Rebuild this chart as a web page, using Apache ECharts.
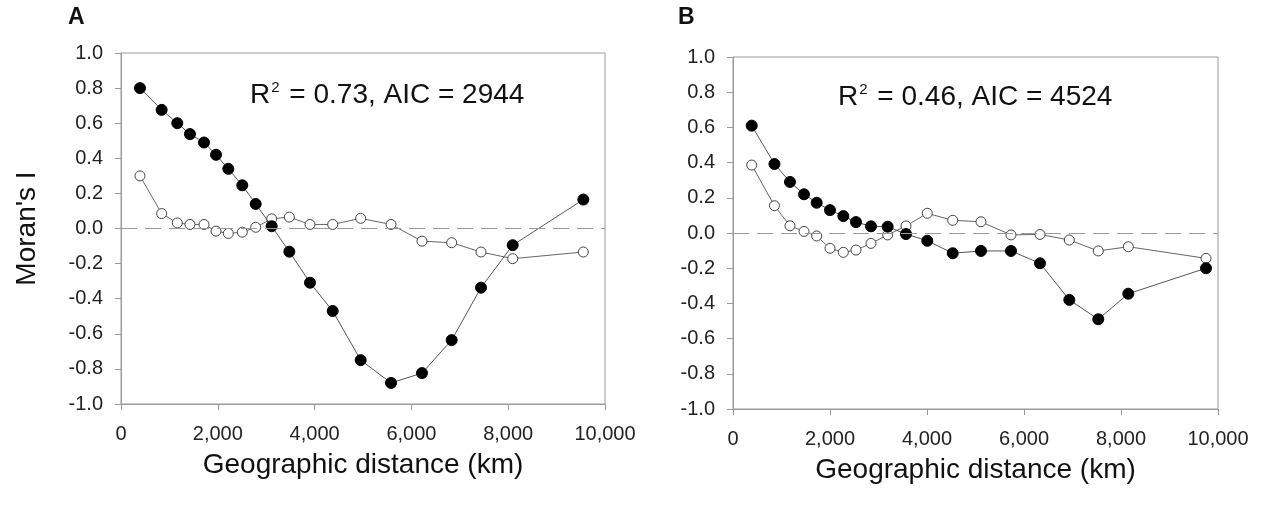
<!DOCTYPE html>
<html>
<head>
<meta charset="utf-8">
<script src="https://cdn.jsdelivr.net/npm/echarts@6/dist/echarts.min.js"></script>
<style>
  html, body { margin: 0; padding: 0; background: #fff; }
  #chart { width: 1262px; height: 510px; }
</style>
</head>
<body>
<div id="chart"></div>
<script>
// panel A: distance classes (km) and Moran's I
const distA = [392, 840, 1163, 1425, 1715, 1963, 2217, 2506, 2783, 3113, 3478, 3905, 4374, 4952, 5579, 6219, 6832, 7438, 8093, 9552];
const filledA = [0.80, 0.676, 0.60, 0.538, 0.49, 0.42, 0.34, 0.246, 0.14, 0.013, -0.132, -0.309, -0.47, -0.75, -0.88, -0.824, -0.636, -0.337, -0.095, 0.165];
const hollowA = [0.30, 0.085, 0.032, 0.023, 0.023, -0.015, -0.028, -0.021, 0.007, 0.055, 0.065, 0.023, 0.023, 0.058, 0.023, -0.072, -0.081, -0.134, -0.172, -0.134];

// panel B
const distB = [386, 855, 1175, 1464, 1725, 2000, 2275, 2536, 2845, 3189, 3567, 4006, 4530, 5113, 5732, 6330, 6934, 7532, 8151, 9753];
const filledB = [0.61, 0.392, 0.29, 0.22, 0.172, 0.13, 0.096, 0.062, 0.038, 0.036, -0.006, -0.044, -0.115, -0.102, -0.102, -0.172, -0.38, -0.49, -0.345, -0.2];
const hollowB = [0.386, 0.155, 0.041, 0.009, -0.017, -0.087, -0.11, -0.097, -0.059, -0.011, 0.04, 0.112, 0.072, 0.064, -0.011, -0.008, -0.04, -0.102, -0.078, -0.144];

const panelLabels = ["A", "B"];
const fitTexts = [["0.73", "2944"], ["0.46", "4524"]];

const font = "Liberation Sans, Arial, sans-serif";
const axisGray = "#9a9a9a";

function pairs(xs, ys) {
  return xs.map((x, i) => [x, ys[i]]);
}

function xAxisFor(idx) {
  return {
    gridIndex: idx,
    type: "value",
    min: 0,
    max: 10000,
    interval: 2000,
    name: "Geographic distance (km)",
    nameLocation: "middle",
    nameGap: 47,
    nameTextStyle: { fontFamily: font, fontSize: 28, color: "#111" },
    axisLine: { show: true, onZero: false, lineStyle: { color: axisGray } },
    axisTick: { show: true, length: 6, lineStyle: { color: axisGray } },
    axisLabel: {
      fontFamily: font, fontSize: 20, color: "#222", margin: 20,
      formatter: (v) => v.toLocaleString("en-US"),
    },
    splitLine: { show: false },
  };
}

function yAxisFor(idx) {
  return {
    gridIndex: idx,
    type: "value",
    min: -1,
    max: 1,
    interval: 0.2,
    name: idx === 0 ? "Moran's I" : "",
    nameLocation: "middle",
    nameGap: 80,
    nameTextStyle: { fontFamily: font, fontSize: 28, color: "#111" },
    axisLine: { show: true, onZero: false, lineStyle: { color: axisGray } },
    axisTick: { show: true, length: 6, lineStyle: { color: axisGray } },
    axisLabel: {
      fontFamily: font, fontSize: 20, color: "#222", margin: 18,
      formatter: (v) => v.toFixed(1),
    },
    splitLine: { show: false },
  };
}

function filledSeries(idx, data) {
  return {
    type: "line",
    xAxisIndex: idx,
    yAxisIndex: idx,
    data: data,
    symbol: "circle",
    symbolSize: 11,
    z: 4,
    lineStyle: { color: "#555", width: 1 },
    itemStyle: { color: "#000", borderColor: "#000", borderWidth: 1 },
  };
}

function hollowSeries(idx, data) {
  return {
    type: "line",
    xAxisIndex: idx,
    yAxisIndex: idx,
    data: data,
    symbol: "circle",
    symbolSize: 10,
    z: 3,
    lineStyle: { color: "#666", width: 1 },
    itemStyle: { color: "#fff", borderColor: "#444", borderWidth: 1 },
    markLine: {
      silent: true,
      symbol: "none",
      label: { show: false },
      lineStyle: { color: "#999", type: [16, 8], width: 1 },
      data: [{ yAxis: 0 }],
    },
  };
}

function fitText(left, top, vals) {
  return {
    type: "text",
    left: left,
    top: top,
    style: {
      text: "{b|R}{s|2}{b| = " + vals[0] + ", AIC = " + vals[1] + "}",
      rich: {
        b: { fontFamily: font, fontSize: 28, fill: "#111" },
        s: { fontFamily: font, fontSize: 15, fill: "#111", verticalAlign: "top", padding: [0, 2, 16, 1] },
      },
    },
  };
}

const chart = echarts.init(document.getElementById("chart"));
chart.setOption({
  animation: false,
  backgroundColor: "#fff",
  grid: [
    { left: 121, top: 53, width: 484, height: 351, show: true, borderColor: axisGray, borderWidth: 1 },
    { left: 733, top: 57, width: 485, height: 352, show: true, borderColor: axisGray, borderWidth: 1 },
  ],
  xAxis: [xAxisFor(0), xAxisFor(1)],
  yAxis: [yAxisFor(0), yAxisFor(1)],
  series: [
    hollowSeries(0, pairs(distA, hollowA)),
    filledSeries(0, pairs(distA, filledA)),
    hollowSeries(1, pairs(distB, hollowB)),
    filledSeries(1, pairs(distB, filledB)),
  ],
  graphic: [
    { type: "text", left: 68, top: 6, style: { text: panelLabels[0], fontFamily: font, fontSize: 23, fontWeight: "bold", fill: "#111" } },
    { type: "text", left: 678, top: 6, style: { text: panelLabels[1], fontFamily: font, fontSize: 23, fontWeight: "bold", fill: "#111" } },
    fitText(250, 80, fitTexts[0]),
    fitText(838, 82, fitTexts[1]),
  ],
});
</script>
</body>
</html>
